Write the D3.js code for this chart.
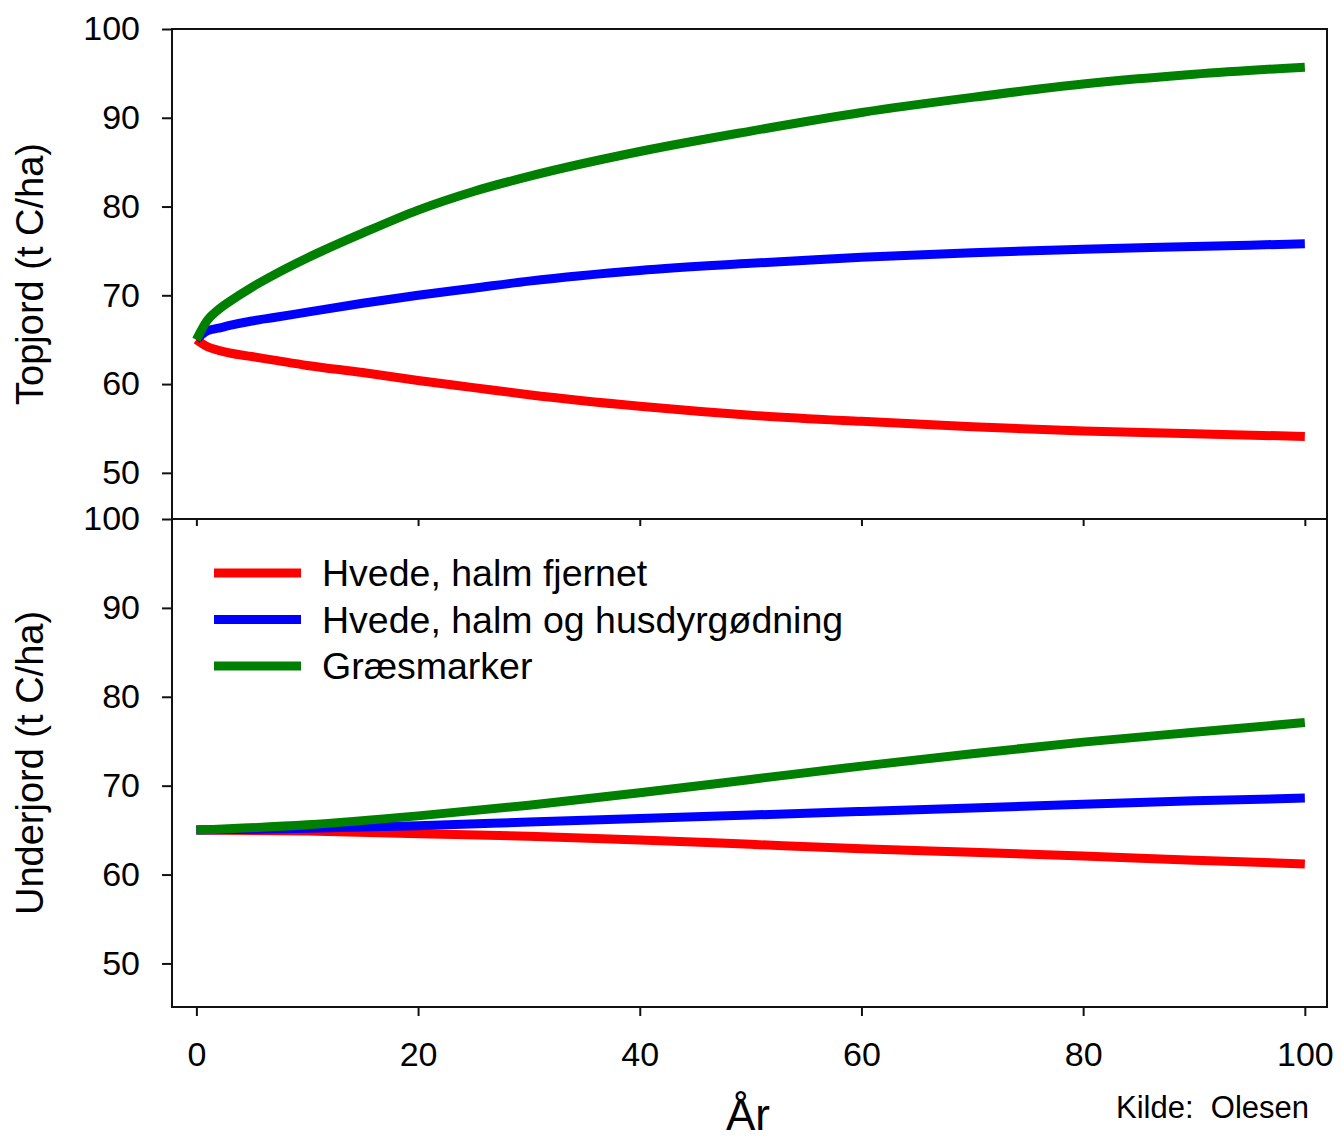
<!DOCTYPE html>
<html>
<head>
<meta charset="utf-8">
<script src="https://cdn.jsdelivr.net/npm/d3@7"></script>
<style>
  body { margin: 0; background: #fff; }
  text { font-family: "Liberation Sans", Arial, sans-serif; fill: #000; }
</style>
</head>
<body>
<svg width="1342" height="1141"></svg>
<script>
// years for each panel
const yearsTop = [0, 1, 2, 3, 5, 7, 10, 15, 20, 25, 30, 40, 50, 60, 70, 80, 90, 100];
const yearsBottom = [0, 10, 20, 30, 40, 50, 60, 70, 80, 90, 100];

// Topjord (t C/ha)
const topRed   = [65, 64.2, 63.8, 63.5, 63.1, 62.7, 62.1, 61.3, 60.4, 59.6, 58.8, 57.5, 56.5, 55.8, 55.2, 54.7, 54.4, 54.1];
const topBlue  = [65, 66.0, 66.3, 66.6, 67.1, 67.5, 68.1, 69.1, 70.0, 70.8, 71.6, 72.8, 73.6, 74.3, 74.8, 75.2, 75.5, 75.8];
const topGreen = [65, 67.2, 68.4, 69.3, 70.9, 72.3, 74.2, 77.0, 79.6, 81.7, 83.4, 86.2, 88.5, 90.6, 92.3, 93.8, 94.9, 95.7];

// Underjord (t C/ha)
const botRed   = [65, 64.9, 64.6, 64.3, 63.9, 63.4, 62.9, 62.5, 62.1, 61.6, 61.2];
const botBlue  = [65, 65.2, 65.5, 65.9, 66.3, 66.7, 67.1, 67.5, 67.9, 68.3, 68.6];
const botGreen = [65, 65.6, 66.6, 67.8, 69.2, 70.7, 72.2, 73.6, 74.9, 76.0, 77.1];

const seriesNames = ["Hvede, halm fjernet", "Hvede, halm og husdyrgødning", "Græsmarker"];
const colors = ["#ff0000", "#0000ff", "#008000"];
const yTicks = [50, 60, 70, 80, 90, 100];
const xTicks = [0, 20, 40, 60, 80, 100];

const svg = d3.select("svg");

const left = 172, right = 1327;
const x = d3.scaleLinear().domain([-2.2, 102]).range([left, right]);

const yTop = d3.scaleLinear().domain([44.8, 100]).range([519, 29]);
const yBot = d3.scaleLinear().domain([45.1, 100]).range([1007, 519]);

const panels = [
    { y: yTop, years: yearsTop, series: [topRed, topBlue, topGreen], title: "Topjord (t C/ha)" },
    { y: yBot, years: yearsBottom, series: [botRed, botBlue, botGreen], title: "Underjord (t C/ha)" }
];

panels.forEach((p, i) => {
    const [y0, y1] = p.y.range();

    // frame
    svg.append("rect")
        .attr("x", left).attr("y", y1)
        .attr("width", right - left).attr("height", y0 - y1)
        .attr("fill", "none").attr("stroke", "#111").attr("stroke-width", 2);

    // lines
    p.series.forEach((vals, k) => {
        const line = d3.line()
            .x((d, j) => x(p.years[j]))
            .y(d => p.y(d))
            .curve(d3.curveMonotoneX);
        svg.append("path")
            .datum(vals)
            .attr("d", line)
            .attr("fill", "none")
            .attr("stroke", colors[k])
            .attr("stroke-width", 9);
    });

    // y axis
    const ya = svg.append("g")
        .attr("transform", "translate(" + left + ",0)")
        .call(d3.axisLeft(p.y).tickValues(yTicks).tickSize(10).tickPadding(22));
    ya.select(".domain").remove();
    ya.selectAll("line").attr("stroke", "#111").attr("stroke-width", 2);
    ya.selectAll("text").style("font-size", "34px").attr("fill", "#000");

    // x axis (labels only on the lower panel)
    const xa = svg.append("g")
        .attr("transform", "translate(0," + y0 + ")")
        .call(d3.axisBottom(x).tickValues(xTicks)
            .tickSize(i === 0 ? 7 : 9)
            .tickPadding(26)
            .tickFormat(i === 0 ? "" : d3.format("d")));
    xa.select(".domain").remove();
    xa.selectAll("line").attr("stroke", "#111").attr("stroke-width", 2);
    xa.selectAll("text").style("font-size", "34px").attr("fill", "#000");

    // y title
    svg.append("text")
        .attr("transform", "translate(43," + (y0 + y1) / 2 + ") rotate(-90)")
        .attr("text-anchor", "middle")
        .style("font-size", "38px")
        .text(p.title);
});

// legend
const legend = svg.append("g").attr("transform", "translate(214,573)");
seriesNames.forEach((name, k) => {
    legend.append("line")
        .attr("x1", 0).attr("x2", 87)
        .attr("y1", k * 46.5).attr("y2", k * 46.5)
        .attr("stroke", colors[k]).attr("stroke-width", 9);
    legend.append("text")
        .attr("x", 108).attr("y", k * 46.5 + 13)
        .style("font-size", "37.5px")
        .text(name);
});

// x title and source
svg.append("text")
    .attr("x", 748).attr("y", 1130)
    .attr("text-anchor", "middle")
    .style("font-family", "'Liberation Sans Narrow', 'Arial Narrow', sans-serif")
    .style("font-size", "44px")
    .text("År");

svg.append("text")
    .attr("x", 1116).attr("y", 1118)
    .style("font-family", "'Liberation Sans Narrow', 'Arial Narrow', sans-serif")
    .style("font-size", "31px")
    .style("white-space", "pre")
    .text("Kilde:  Olesen");
</script>
</body>
</html>
